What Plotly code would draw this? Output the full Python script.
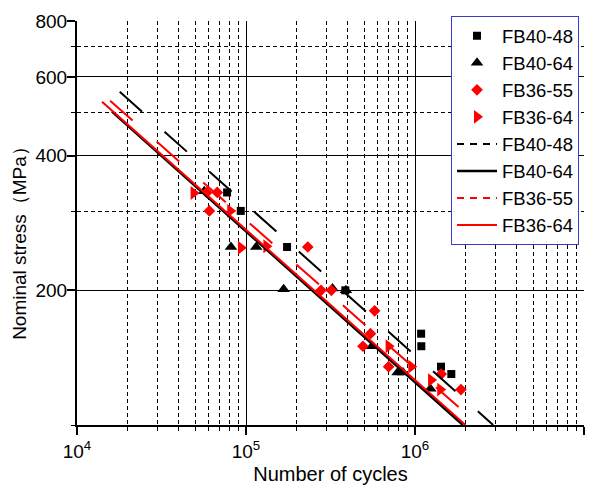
import plotly.graph_objects as go

# ---- data ----
fb40_48_N = [77.3e3, 93.1e3, 175e3, 387e3, 1.087e6, 1.09e6, 1.425e6, 1.64e6]
fb40_48_S = [331, 301, 250, 200, 160, 150, 135, 130]

fb40_64_N = [56.6e3, 81.5e3, 115e3, 167e3, 325e3, 390e3, 556e3, 789e3, 850e3, 1.233e6]
fb40_64_S = [333, 250, 250, 201, 202, 200, 150, 131, 131, 120.5]

fb36_55_N = [58.7e3, 60.7e3, 67.6e3, 232e3, 278e3, 320e3, 492e3, 545e3, 577e3, 698e3, 1.43e6, 1.87e6]
fb36_55_S = [331, 301, 331, 250, 200, 200, 150, 160, 180, 135, 130, 120]

fb36_64_N = [49e3, 80.7e3, 93.3e3, 132e3, 698e3, 951e3, 1.245e6, 1.41e6]
fb36_64_S = [330, 301, 249, 251, 150, 135, 126, 120]

# fitted S-N lines (end points)
fit40_48_N = [17.9e3, 2.90e6]
fit40_48_S = [556, 100]
fit40_64_N = [16.1e3, 1.92e6]
fit40_64_S = [502, 100]
fit36_55_N = [15.7e3, 2.39e6]
fit36_55_S = [531, 100]
fit36_64_N = [14.06e3, 1.99e6]
fit36_64_S = [528, 100]

series_names = ["FB40-48", "FB40-64", "FB36-55", "FB36-64"]

x_major = [1e4, 1e5, 1e6, 1e7]
x_major_text = ["10<sup>4</sup>", "10<sup>5</sup>", "10<sup>6</sup>", "10<sup>7</sup>"]
x_minor = [m * 10 ** e for e in (4, 5, 6) for m in range(2, 10)]
y_major = [200, 400, 600, 800]
y_minor = [100, 300, 500, 700]

x_title = "Number of cycles"
y_title = "Nominal stress（MPa）"

RED = "#ff0000"
BLACK = "#000000"
FONT = "Arial, Liberation Sans, sans-serif"

fig = go.Figure()

# measured points
fig.add_trace(go.Scatter(x=fb40_48_N, y=fb40_48_S, mode="markers", name=series_names[0],
                         marker=dict(symbol="square", size=8, color=BLACK)))
fig.add_trace(go.Scatter(x=fb40_64_N, y=fb40_64_S, mode="markers", name=series_names[1],
                         marker=dict(symbol="triangle-up", size=11, color=BLACK)))
fig.add_trace(go.Scatter(x=fb36_55_N, y=fb36_55_S, mode="markers", name=series_names[2],
                         marker=dict(symbol="diamond", size=9, color=RED)))
fig.add_trace(go.Scatter(x=fb36_64_N, y=fb36_64_S, mode="markers", name=series_names[3],
                         marker=dict(symbol="triangle-right", size=12, color=RED)))

# legend entries for the fitted lines (short dash pattern as in the legend)
leg_styles = [(BLACK, "7px,6px", 2), (BLACK, "solid", 2.5), (RED, "7px,6px", 2), (RED, "solid", 2)]
for nm, (c, d, w) in zip(series_names, leg_styles):
    fig.add_trace(go.Scatter(x=[None], y=[None], mode="lines", name=nm,
                             line=dict(color=c, width=w, dash=d), hoverinfo="skip"))

# fitted lines
fig.add_trace(go.Scatter(x=fit40_48_N, y=fit40_48_S, mode="lines", showlegend=False,
                         line=dict(color=BLACK, width=2, dash="30px,30px")))
fig.add_trace(go.Scatter(x=fit40_64_N, y=fit40_64_S, mode="lines", showlegend=False,
                         line=dict(color=BLACK, width=2.5)))
fig.add_trace(go.Scatter(x=fit36_55_N, y=fit36_55_S, mode="lines", showlegend=False,
                         line=dict(color=RED, width=2, dash="30px,32px")))
fig.add_trace(go.Scatter(x=fit36_64_N, y=fit36_64_S, mode="lines", showlegend=False,
                         line=dict(color=RED, width=2)))

axis_common = dict(
    showline=True, linecolor=BLACK, linewidth=2,
    ticks="outside", ticklen=8, tickwidth=1.5, tickcolor=BLACK,
    showgrid=True, gridcolor=BLACK, gridwidth=1,
    zeroline=False, mirror=False, automargin=False,
    tickfont=dict(family=FONT, size=19, color=BLACK),
)

# the page body adds an 8px offset, so the figure is 8px smaller than the window
fig.update_layout(
    width=585, height=478,
    margin=dict(l=69, r=9, t=8, b=61),
    paper_bgcolor="white", plot_bgcolor="white",
    font=dict(family=FONT, size=19, color=BLACK),
    showlegend=True,
    legend=dict(
        x=0.7377, y=1.012, xanchor="left", yanchor="top",
        bgcolor="white", bordercolor="#3a3acc", borderwidth=1,
        font=dict(family=FONT, size=18.5, color=BLACK),
        itemwidth=40, tracegroupgap=0,
    ),
    xaxis=dict(
        type="log", range=[4, 7],
        tickmode="array", tickvals=x_major, ticktext=x_major_text,
        title=dict(text=x_title, font=dict(family=FONT, size=20, color=BLACK), standoff=6),
        minor=dict(tickmode="array", tickvals=x_minor, ticks="outside", ticklen=4,
                   tickwidth=1, tickcolor=BLACK, showgrid=True, gridcolor=BLACK,
                   gridwidth=1, griddash="4px,3px"),
        **axis_common,
    ),
    yaxis=dict(
        type="log", range=[2, 2.90309],
        tickmode="array", tickvals=y_major, ticktext=[str(v) for v in y_major],
        ticklabelstandoff=-4,
        minor=dict(tickmode="array", tickvals=y_minor, ticks="outside", ticklen=4,
                   tickwidth=1, tickcolor=BLACK, showgrid=True, gridcolor=BLACK,
                   gridwidth=1, griddash="4px,3px"),
        **axis_common,
    ),
    annotations=[dict(
        text=y_title, textangle=-90, showarrow=False,
        xref="paper", yref="paper", x=-0.1134, y=0.462,
        xanchor="center", yanchor="middle",
        font=dict(family=FONT, size=19, color=BLACK),
    )],
)

fig.write_html("out.html")
